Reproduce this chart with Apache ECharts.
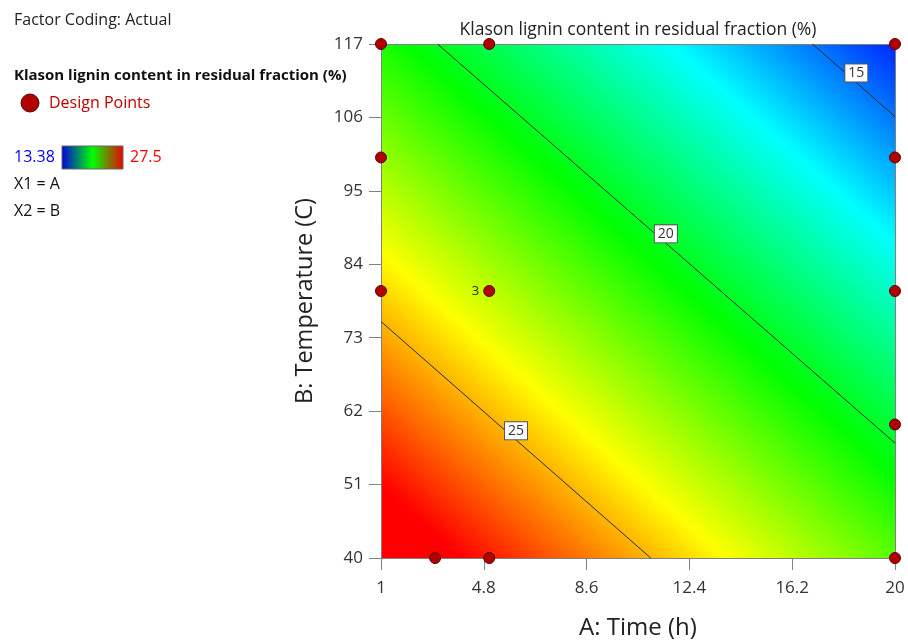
<!DOCTYPE html>
<html>
<head>
<meta charset="utf-8">
<script src="https://cdn.jsdelivr.net/npm/echarts@6/dist/echarts.min.js"></script>
<style>
html,body{margin:0;padding:0;background:#fff;}
#chart{width:908px;height:641px;}
</style>
</head>
<body>
<div id="chart"></div>
<script>
// ---- data ----
const xTicks = [1, 4.8, 8.6, 12.4, 16.2, 20];
const yTicks = [40, 51, 62, 73, 84, 95, 106, 117];

// design points (A: Time, B: Temperature) and replicate counts
const designA = [1, 5, 20, 1, 20, 1, 5, 20, 20, 3, 5, 20];
const designB = [117, 117, 117, 100, 100, 80, 80, 80, 60, 40, 40, 40];
const designReps = [1, 1, 1, 1, 1, 1, 3, 1, 1, 1, 1, 1];

// predicted response at the corners of the design space (planar surface)
const surfaceA = [1, 20];
const surfaceB = [40, 117];
const surfaceValues = [[28.6, 21.7], [20.8, 13.9]]; // rows: B=40, B=117

// colour scale range
const colorMin = 13.38;
const colorMax = 27.5;

// contour lines (end points)
const contourLevels = [25, 20, 15];
const contourA = [[1, 10.97], [3.09, 20], [16.95, 20]];
const contourB = [[75.42, 40], [117, 57.22], [117, 106.12]];
const contourLabelA = [5.99, 11.53, 18.57];
const contourLabelB = [59.06, 88.56, 112.66];

// ---- chart ----
const FONT = 'Open Sans';
const chart = echarts.init(document.getElementById('chart'), null, {renderer: 'canvas'});

const paletteStops = [
  {offset: 0, color: '#0000ff'},
  {offset: 0.25, color: '#00ffff'},
  {offset: 0.5, color: '#00ff00'},
  {offset: 0.75, color: '#ffff00'},
  {offset: 1, color: '#ff0000'}
];

function renderSurface(params, api) {
  const p00 = api.coord([surfaceA[0], surfaceB[0]]);
  const p10 = api.coord([surfaceA[1], surfaceB[0]]);
  const p01 = api.coord([surfaceA[0], surfaceB[1]]);
  const v00 = surfaceValues[0][0];
  const v10 = surfaceValues[0][1];
  const v01 = surfaceValues[1][0];
  const gx = (v10 - v00) / (p10[0] - p00[0]);
  const gy = (v01 - v00) / (p01[1] - p00[1]);
  const g2 = gx * gx + gy * gy;
  const at = v => [p00[0] + (v - v00) * gx / g2, p00[1] + (v - v00) * gy / g2];
  const s = at(colorMin), e = at(colorMax);
  return {
    type: 'rect',
    shape: {x: p00[0], y: p01[1], width: p10[0] - p00[0], height: p00[1] - p01[1]},
    style: {fill: new echarts.graphic.LinearGradient(s[0], s[1], e[0], e[1], paletteStops, true)}
  };
}

const series = [];
series.push({
  type: 'custom',
  renderItem: renderSurface,
  data: [[surfaceA[0], surfaceB[0]]],
  silent: true,
  z: 0,
  clip: false
});

contourLevels.forEach((lv, i) => {
  series.push({
    type: 'line',
    data: [[contourA[i][0], contourB[i][0]], [contourA[i][1], contourB[i][1]]],
    symbol: 'none',
    silent: true,
    z: 2,
    lineStyle: {color: '#2a2a2a', width: 1},
    animation: false
  });
});

series.push({
  type: 'scatter',
  data: contourLevels.map((lv, i) => ({value: [contourLabelA[i], contourLabelB[i]], name: String(lv)})),
  symbolSize: 0,
  silent: true,
  z: 3,
  itemStyle: {opacity: 1},
  label: {
    show: true,
    position: 'inside',
    formatter: p => p.name,
    backgroundColor: '#ffffff',
    borderColor: '#555555',
    borderWidth: 1,
    padding: [2, 3, 1, 3],
    color: '#333',
    fontSize: 14,
    fontFamily: FONT
  }
});

series.push({
  type: 'scatter',
  clip: false,
  z: 4,
  symbolSize: 11,
  itemStyle: {color: '#b00000', borderColor: '#5a0000', borderWidth: 1, opacity: 1},
  data: designA.map((a, i) => ({
    value: [a, designB[i]],
    label: designReps[i] > 1 ? {show: true, formatter: String(designReps[i]), position: 'left', distance: 4, fontSize: 13, color: '#222', fontFamily: FONT} : {show: false}
  }))
});

const gridL = 381, gridT = 44, gridW = 514, gridH = 514;

chart.setOption({
  animation: false,
  textStyle: {fontFamily: FONT},
  grid: {left: gridL, top: gridT, width: gridW, height: gridH, containLabel: false, outerBoundsMode: 'none'},
  xAxis: [{
    type: 'value', min: 1, max: 20, position: 'bottom', z: 1,
    axisLine: {show: true, onZero: false, lineStyle: {color: '#808080', width: 1}},
    axisTick: {show: true, length: 12, customValues: xTicks, lineStyle: {color: '#808080'}},
    axisLabel: {customValues: xTicks, margin: 22, fontSize: 17, color: '#333', fontFamily: FONT},
    splitLine: {show: false},
    name: 'A: Time (h)', nameLocation: 'middle', nameGap: 58,
    nameTextStyle: {fontSize: 24, color: '#222', fontFamily: FONT}
  }, {
    type: 'value', min: 1, max: 20, position: 'top', z: 1,
    axisLine: {show: true, onZero: false, lineStyle: {color: '#808080', width: 1}},
    axisTick: {show: false}, axisLabel: {show: false}, splitLine: {show: false}
  }],
  yAxis: [{
    type: 'value', min: 40, max: 117, position: 'left', z: 1,
    axisLine: {show: true, onZero: false, lineStyle: {color: '#808080', width: 1}},
    axisTick: {show: true, length: 12, customValues: yTicks, lineStyle: {color: '#808080'}},
    axisLabel: {customValues: yTicks, margin: 18, fontSize: 17, color: '#333', fontFamily: FONT},
    splitLine: {show: false},
    name: 'B: Temperature (C)', nameLocation: 'middle', nameGap: 64,
    nameTextStyle: {fontSize: 23.5, color: '#222', fontFamily: FONT}
  }, {
    type: 'value', min: 40, max: 117, position: 'right', z: 1,
    axisLine: {show: true, onZero: false, lineStyle: {color: '#808080', width: 1}},
    axisTick: {show: false}, axisLabel: {show: false}, splitLine: {show: false}
  }],
  series: series,
  graphic: [
    {type: 'text', x: gridL + gridW / 2, y: 30, silent: true,
     style: {text: 'Klason lignin content in residual fraction (%)', font: '17.5px "' + FONT + '"', fill: '#222', textAlign: 'center', textVerticalAlign: 'middle'}},
    {type: 'text', x: 14, y: 20, silent: true,
     style: {text: 'Factor Coding: Actual', font: '16px "' + FONT + '"', fill: '#222', textVerticalAlign: 'middle'}},
    {type: 'text', x: 14, y: 76, silent: true,
     style: {text: 'Klason lignin content in residual fraction (%)', font: 'bold 15px "' + FONT + '"', fill: '#111', textVerticalAlign: 'middle'}},
    {type: 'circle', shape: {cx: 30, cy: 103, r: 9}, silent: true,
     style: {fill: '#b00000', stroke: '#5a0000', lineWidth: 1}},
    {type: 'text', x: 49, y: 103, silent: true,
     style: {text: 'Design Points', font: '16px "' + FONT + '"', fill: '#c00000', textVerticalAlign: 'middle'}},
    {type: 'text', x: 14, y: 157, silent: true,
     style: {text: String(colorMin), font: '16px "' + FONT + '"', fill: '#0000ff', textVerticalAlign: 'middle'}},
    {type: 'rect', shape: {x: 62, y: 146, width: 61, height: 23}, silent: true,
     style: {fill: new echarts.graphic.LinearGradient(0, 0, 1, 0, [
       {offset: 0, color: '#0000e0'}, {offset: 0.5, color: '#00ff00'}, {offset: 1, color: '#ee0000'}]),
       stroke: '#666', lineWidth: 1}},
    {type: 'text', x: 130, y: 157, silent: true,
     style: {text: String(colorMax), font: '16px "' + FONT + '"', fill: '#ff0000', textVerticalAlign: 'middle'}},
    {type: 'text', x: 14, y: 184, silent: true,
     style: {text: 'X1 = A', font: '16px "' + FONT + '"', fill: '#111', textVerticalAlign: 'middle'}},
    {type: 'text', x: 14, y: 211, silent: true,
     style: {text: 'X2 = B', font: '16px "' + FONT + '"', fill: '#111', textVerticalAlign: 'middle'}}
  ]
});
</script>
</body>
</html>
